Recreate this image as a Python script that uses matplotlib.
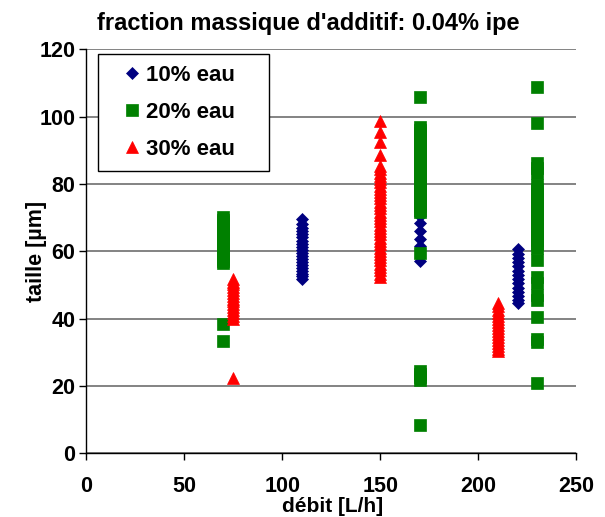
import matplotlib
matplotlib.use("Agg")
import matplotlib.pyplot as plt

plt.rcParams['font.family'] = ['Liberation Sans', 'DejaVu Sans']
plt.rcParams['font.weight'] = 'bold'

title = "fraction massique d'additif: 0.04% ipe"
xlabel = "débit [L/h]"
ylabel = "taille [µm]"
series_labels = ["10% eau", "20% eau", "30% eau"]

# 10% eau (navy diamonds)
eau10_x110 = [69.6, 68.2, 67.0, 66.1, 65.0, 64.2, 63.1, 62.3, 61.2, 60.4, 59.5, 58.6,
              57.8, 56.9, 56.0, 55.1, 54.3, 53.4, 52.6, 51.8]
eau10_x170 = [70.5, 68.5, 66.0, 63.6, 61.5, 57.2]
eau10_x220 = [60.7, 59.2, 58.0, 56.8, 55.5, 54.3, 53.0, 51.8, 50.5, 49.2, 48.0, 46.8,
              45.6, 44.7]

# 20% eau (green squares)
eau20_x70 = [70.2, 69.4, 68.6, 67.8, 67.0, 66.2, 65.3, 64.5, 63.7, 62.8, 62.0, 61.1,
             60.3, 59.5, 58.7, 57.8, 57.1, 56.4, 38.3, 33.5]
eau20_x170 = [105.8, 97.0, 96.1, 95.2, 94.3, 93.4, 92.5, 91.6, 90.7, 89.8, 88.9, 88.0,
              87.1, 86.2, 85.3, 84.4, 83.5, 82.6, 81.7, 80.8, 79.9, 79.0, 78.1, 77.2,
              76.3, 75.4, 74.5, 73.6, 72.7, 71.8, 59.6, 24.3, 23.5, 22.6, 21.8, 8.5]
eau20_x230 = [108.8, 98.0, 86.1, 84.6, 83.2, 79.6, 78.4, 77.1, 75.9, 74.6, 73.3, 72.1,
              70.8, 69.5, 68.3, 67.0, 65.8, 64.5, 63.3, 62.2, 61.1, 57.3, 52.5, 50.7,
              47.0, 45.6, 40.5, 34.0, 33.0, 20.9]

# 30% eau (red triangles)
eau30_x75 = [51.8, 51.0, 50.2, 49.3, 48.5, 47.6, 46.8, 45.9, 45.1, 44.3, 43.4, 42.6,
             41.7, 40.9, 40.0, 22.3]
eau30_x150 = [98.8, 95.3, 92.4, 88.6, 85.4, 84.4, 83.4, 82.4, 81.5, 80.5, 79.5, 78.6,
              77.6, 76.6, 75.7, 74.7, 73.7, 72.8, 71.8, 70.8, 69.8, 68.9, 67.9, 66.9,
              66.0, 65.0, 64.0, 63.1, 62.1, 61.1, 60.2, 59.2, 58.2, 57.3, 56.3, 55.3,
              54.4, 53.4, 52.5]
eau30_x210 = [44.6, 43.7, 42.7, 41.8, 40.9, 40.0, 39.1, 38.2, 37.2, 36.3, 35.4, 34.5,
              33.6, 32.7, 31.8, 30.9, 30.4]

series = [
    ({110: eau10_x110, 170: eau10_x170, 220: eau10_x220}, 'D', '#000080', 6.4),
    ({70: eau20_x70, 170: eau20_x170, 230: eau20_x230}, 's', '#008000', 8.3),
    ({75: eau30_x75, 150: eau30_x150, 210: eau30_x210}, '^', '#FF0000', 8.6),
]

fig = plt.figure(figsize=(6.05, 5.17), dpi=100)
ax = fig.add_axes([0.1426, 0.1232, 0.81, 0.7814])

for (cols, marker, color, ms), lab in zip(series, series_labels):
    xs, ys = [], []
    for xv, vals in cols.items():
        xs += [xv] * len(vals)
        ys += vals
    ax.plot(xs, ys, linestyle='none', marker=marker, color=color, markersize=ms,
            markeredgecolor=color, markeredgewidth=0.5, label=lab, zorder=3)

ax.set_xlim(0, 250)
ax.set_ylim(0, 120)
ax.set_xticks([0, 50, 100, 150, 200, 250])
ax.set_yticks([0, 20, 40, 60, 80, 100, 120])
ax.yaxis.grid(True, color='#6e6e6e', linewidth=1.2)
ax.set_axisbelow(True)
for s in ['top', 'right']:
    ax.spines[s].set_visible(False)
ax.spines['left'].set_linewidth(1.0)
ax.spines['bottom'].set_linewidth(1.0)
ax.tick_params(axis='both', direction='out', length=5, width=1, labelsize=15.5)
ax.tick_params(axis='x', pad=11.5)
ax.tick_params(axis='y', pad=3)
for t in ax.get_xticklabels() + ax.get_yticklabels():
    t.set_fontweight('bold')

ax.set_xlabel(xlabel, fontsize=15, fontweight='bold')
ax.xaxis.set_label_coords(0.503, -0.109)
ax.set_ylabel(ylabel, fontsize=15.5, fontweight='bold')
ax.yaxis.set_label_coords(-0.08, 0.5)
fig.text(0.509, 0.942, title, fontsize=17, fontweight='bold', ha='center', va='baseline')

leg = ax.legend(loc='upper left', bbox_to_anchor=(0.0245, 0.55, 0.349, 0.4376),
                mode='expand', fancybox=False, framealpha=1, edgecolor='black',
                prop={'size': 16, 'weight': 'bold'}, borderpad=0.48, handlelength=2.1,
                handletextpad=-0.45, labelspacing=0.72, borderaxespad=0)
leg.get_frame().set_linewidth(1.0)

fig.savefig('out.png', dpi=100)
